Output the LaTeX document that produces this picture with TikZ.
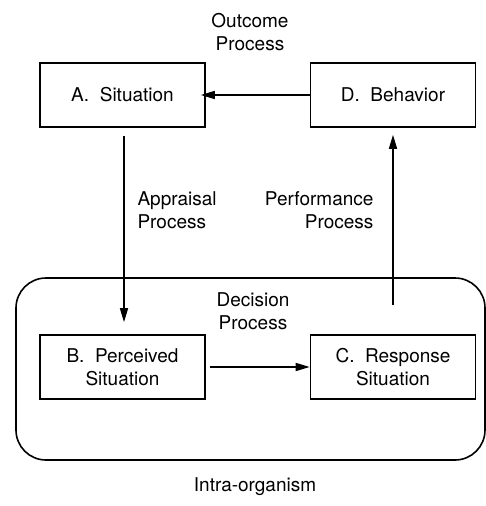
\documentclass[tikz,border=0pt]{standalone}
\usepackage{fontspec}
\setmainfont{TeX Gyre Heros}
\usetikzlibrary{arrows.meta}
\begin{document}
\begin{tikzpicture}[x=1pt,y=-1pt,
  box/.style={draw,line width=1.6pt,minimum width=165pt,minimum height=64pt,align=center,inner sep=0pt},
  lbl/.style={font=\fontsize{19}{23}\selectfont},
  arr/.style={line width=1.5pt,-{Triangle[length=14pt,width=8pt]}}]
\useasboundingbox (0,0) rectangle (486,506);
\draw[line width=1.6pt,rounded corners=30pt] (16,278) rectangle (485,460);
\node[box,lbl] (A) at (122.5,95) {A.\ \ Situation};
\node[box,lbl] (D) at (393,95) {D.\ \ Behavior};
\node[box,lbl] (B) at (122.5,367) {B.\ \ Perceived\\Situation};
\node[box,lbl] (C) at (393,367) {C.\ \ Response\\Situation};
\node[lbl,align=center] (out) at (250,32) {Outcome\\Process};
\node[lbl,align=left,anchor=west] (app) at (134,210) {Appraisal\\Process};
\node[lbl,align=right,anchor=east] (perf) at (377,210) {Performance\\Process};
\node[lbl,align=center] (dec) at (253,311) {Decision\\Process};
\node[lbl] (intra) at (255,487) {Intra-organism};
\coordinate (cs) at (393,305);
\draw[arr] (D.west) -- ([xshift=-5pt]A.east);
\draw[arr] ([xshift=1.5pt,yshift=-8pt]A.south) -- ([xshift=1.5pt,yshift=12pt]B.north);
\draw[arr] ([xshift=4pt]B.east) -- (C.west);
\draw[arr] (cs) -- ([yshift=-7pt]D.south);
\end{tikzpicture}
\end{document}
